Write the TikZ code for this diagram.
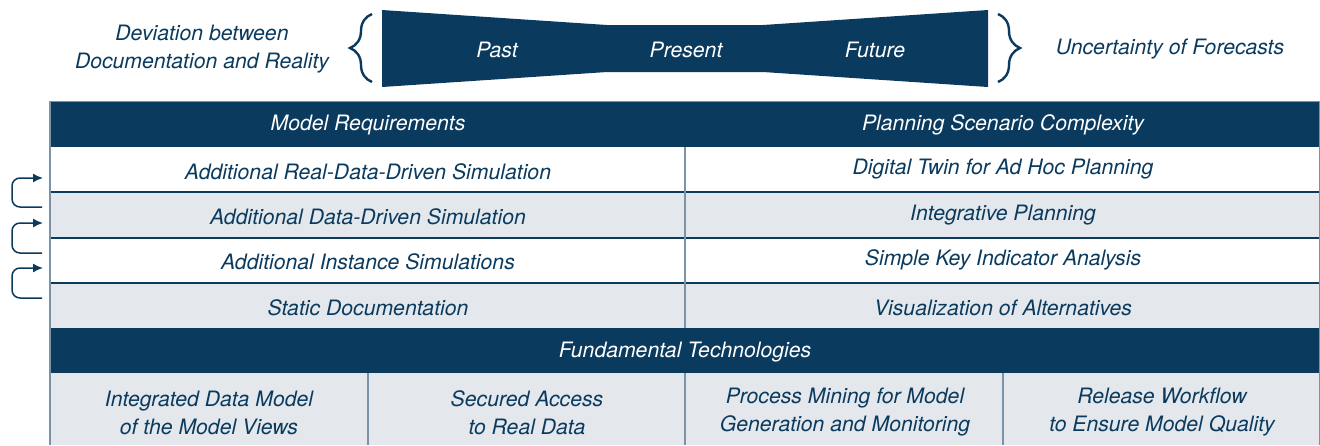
\documentclass[tikz,border=0pt]{standalone}
\usepackage{fontspec}
\setmainfont{TeX Gyre Heros}
\usetikzlibrary{decorations.pathreplacing,arrows.meta}
\definecolor{navy}{RGB}{10,58,94}
\definecolor{rowgrey}{RGB}{228,232,237}
\definecolor{steel}{RGB}{122,147,168}
\begin{document}
\begin{tikzpicture}[x=0.5pt,y=-0.5pt,
  lbl/.style={font=\fontsize{10.6}{13.8}\selectfont\itshape, text=navy, inner sep=0pt, align=center, yshift=-1pt},
  hdr/.style={lbl, text=white},
  sep/.style={navy, line width=0.75pt},
  frame/.style={steel, line width=1pt},
  brc/.style={navy, line width=1.2pt, decorate, decoration={brace, amplitude=11pt}},
  loop/.style={navy, line width=0.75pt, rounded corners=4pt, -{Latex[length=5pt,width=4.5pt]}}]
\useasboundingbox (0,0) rectangle (1320,445);

% time band: wide past, narrow present, wide future
\fill[navy] (382,10) -- (607,25) -- (763,25) -- (988,10) -- (988,87)
  -- (763,72) -- (607,72) -- (382,87) -- cycle;
\node[hdr] (past) at (497,48) {Past};
\node[hdr] (present) at (686,48) {Present};
\node[hdr] (future) at (875,48) {Future};
\draw[brc] (372,82) -- (372,14);
\draw[brc] (998,14) -- (998,82);
\node[lbl] (deviation) at (202,47) {Deviation between\\Documentation and Reality};
\node[lbl] (uncertainty) at (1170,47) {Uncertainty of Forecasts};

% table backgrounds
\fill[navy] (50,101) rectangle (1320,147);
\fill[white] (50,147) rectangle (1320,192);
\fill[rowgrey] (50,192) rectangle (1320,238);
\fill[white] (50,238) rectangle (1320,283);
\fill[rowgrey] (50,283) rectangle (1320,328);
\fill[navy] (50,328) rectangle (1320,373);
\fill[rowgrey] (50,373) rectangle (1320,445);

% rules
\draw[sep] (50,192) -- (1320,192);
\draw[sep] (50,238) -- (1320,238);
\draw[sep] (50,283) -- (1320,283);
\draw[frame] (685,147) -- (685,328);
\draw[frame] (368,373) -- (368,445);
\draw[frame] (685,373) -- (685,445);
\draw[frame] (1003,373) -- (1003,445);
\draw[frame] (50,101) -- (50,445);
\draw[frame] (1319.5,101) -- (1319.5,445);
\draw[steel, line width=0.5pt] (50,101) -- (1320,101);

% headers
\node[hdr] (modreq) at (368,123) {Model Requirements};
\node[hdr] (plancx) at (1003,123) {Planning Scenario Complexity};
\node[hdr] (fundtech) at (685,350) {Fundamental Technologies};

% model requirement levels
\node[lbl] (m1) at (368,170) {Additional Real-Data-Driven Simulation};
\node[lbl] (m2) at (368,215) {Additional Data-Driven Simulation};
\node[lbl] (m3) at (368,260) {Additional Instance Simulations};
\node[lbl] (m4) at (368,306) {Static Documentation};

% planning complexity levels
\node[lbl] (p1) at (1003,167) {Digital Twin for Ad Hoc Planning};
\node[lbl] (p2) at (1003,213) {Integrative Planning};
\node[lbl] (p3) at (1003,258) {Simple Key Indicator Analysis};
\node[lbl] (p4) at (1003,306) {Visualization of Alternatives};

% technologies
\node[lbl] (t1) at (209,411) {Integrated Data Model\\of the Model Views};
\node[lbl] (t2) at (527,411) {Secured Access\\to Real Data};
\node[lbl] (t3) at (845,410) {Process Mining for Model\\Generation and Monitoring};
\node[lbl] (t4) at (1162,410) {Release Workflow\\to Ensure Model Quality};

% escalation loops between levels
\coordinate (in1) at (43,178);
\coordinate (out2) at (42,207);
\coordinate (in2) at (43,223);
\coordinate (out3) at (42,253);
\coordinate (in3) at (43,268);
\coordinate (out4) at (42,298);
\draw[loop] (out2) -- ++(-30,0) |- (in1);
\draw[loop] (out3) -- ++(-30,0) |- (in2);
\draw[loop] (out4) -- ++(-30,0) |- (in3);
\end{tikzpicture}
\end{document}
